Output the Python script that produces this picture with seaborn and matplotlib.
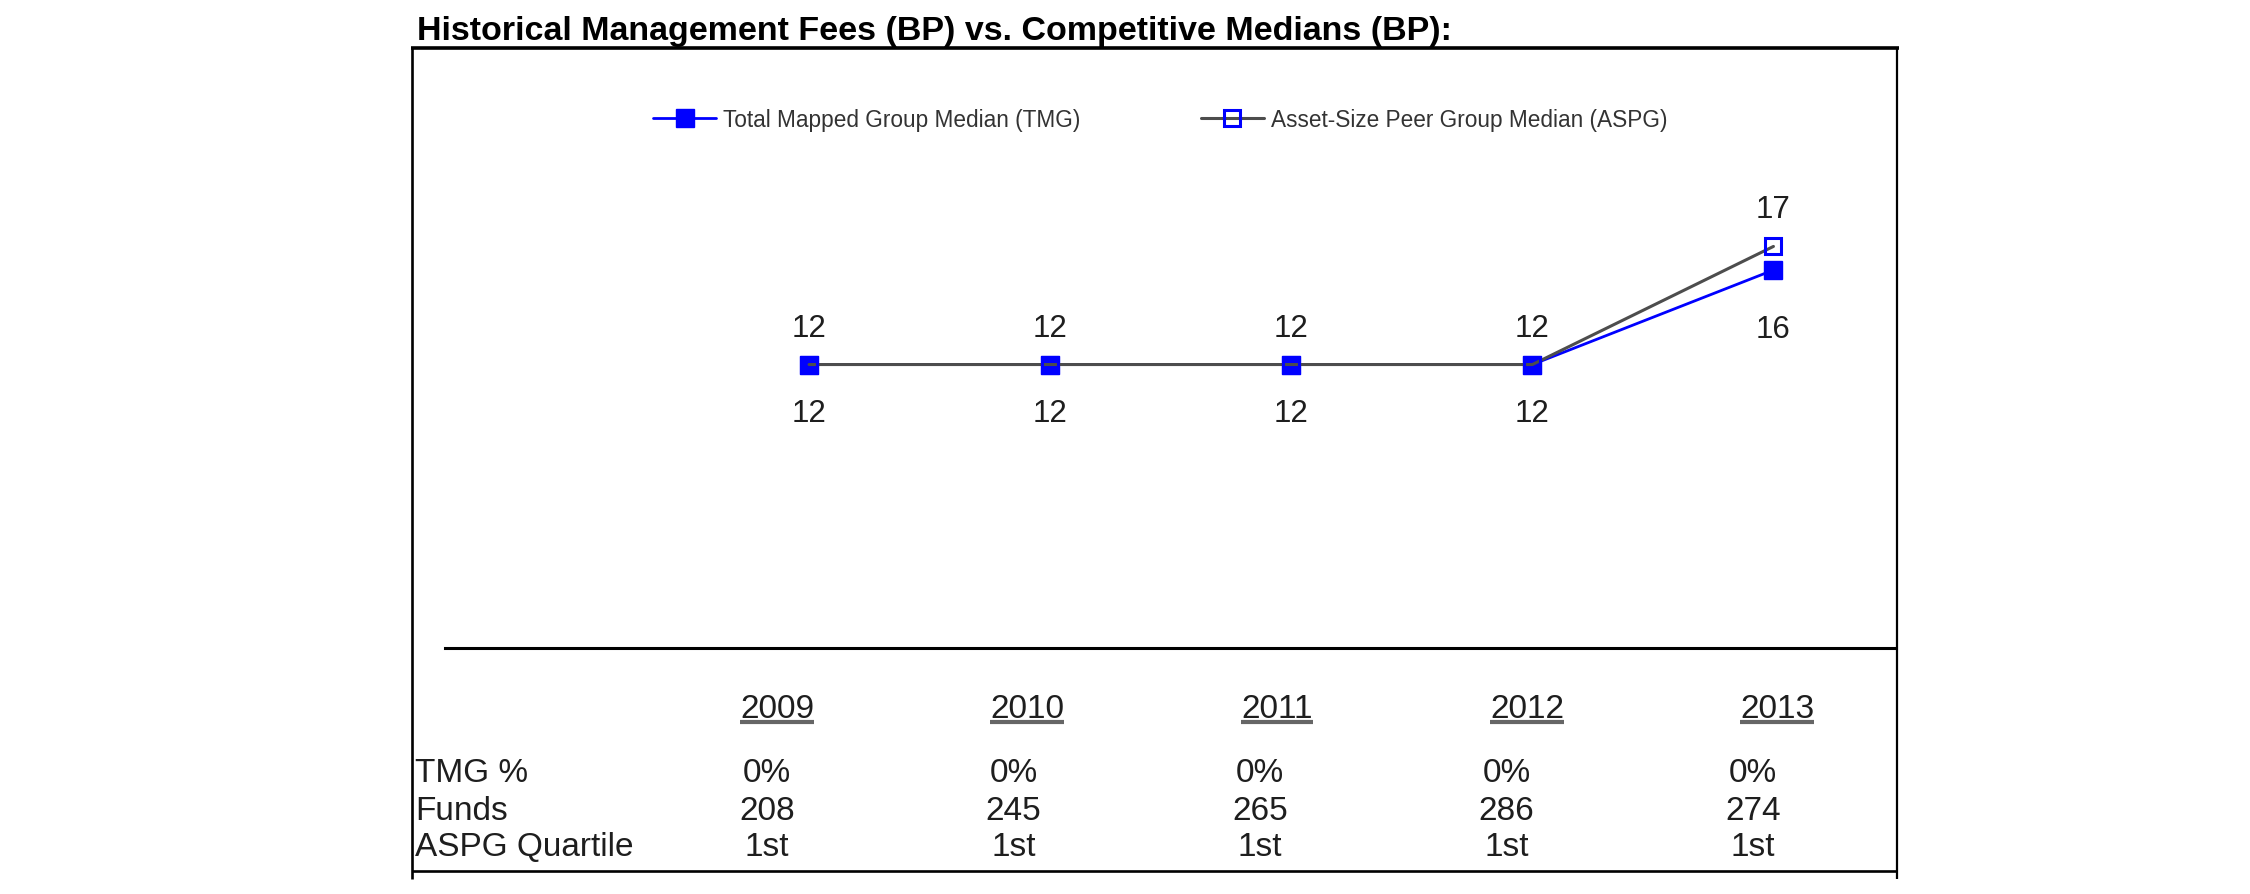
import matplotlib
matplotlib.use("Agg")
import matplotlib.pyplot as plt
from matplotlib.lines import Line2D
import numpy as np
import pandas as pd
import seaborn as sns

# ---------------- data ----------------
years = ["2009", "2010", "2011", "2012", "2013"]
tmg_median = [12, 12, 12, 12, 16]
aspg_median = [12, 12, 12, 12, 17]
tmg_pct = ["0%", "0%", "0%", "0%", "0%"]
funds = [208, 245, 265, 286, 274]
aspg_quartile = ["1st", "1st", "1st", "1st", "1st"]
row_labels = ["TMG %", "Funds", "ASPG Quartile"]
series_labels = ["Total Mapped Group Median (TMG)", "Asset-Size Peer Group Median (ASPG)"]
title = "Historical Management Fees (BP) vs. Competitive Medians (BP):"

# ---------------- style ----------------
sns.set_theme(style="white")
plt.rcParams["font.family"] = ["Liberation Sans", "DejaVu Sans"]

W, H = 2250, 895
fig = plt.figure(figsize=(W / 100, H / 100), dpi=100)
fig.patch.set_facecolor("white")


def fx(px):
    return px / W


def fy(py):
    return 1 - py / H


BLUE = "#0000ff"
GRAY = "#4d4d4d"
TXT = "#1e1e1e"

ax = fig.add_axes([fx(445), fy(649), fx(1894) - fx(445), (649 - 49) / H])
ax.set_facecolor("none")

df = pd.DataFrame({"pos": np.arange(len(years)), "year": years,
                   "TMG": tmg_median, "ASPG": aspg_median})

sns.lineplot(data=df, x="pos", y="TMG", ax=ax, color=BLUE, lw=2.0,
             marker="s", markersize=13, markeredgewidth=1.0,
             markeredgecolor=BLUE, markerfacecolor=BLUE,
             label=series_labels[0], zorder=3)
sns.lineplot(data=df, x="pos", y="ASPG", ax=ax, color=GRAY, lw=2.2,
             marker="s", markersize=11.5, markeredgewidth=2.2,
             markeredgecolor=BLUE, markerfacecolor="none",
             label=series_labels[1], zorder=4)

ax.set_xlim(-1.51, 4.50)
ax.set_ylim(0, 25.4)
ax.set_xticks([])
ax.set_yticks([])
ax.set_xlabel("")
ax.set_ylabel("")
for s in ["left", "top", "right"]:
    ax.spines[s].set_visible(False)
ax.spines["bottom"].set_color("black")
ax.spines["bottom"].set_linewidth(2.2)

# value labels
for i, (t, a) in enumerate(zip(tmg_median, aspg_median)):
    ax.annotate(str(a), (i, a), xytext=(0, 29), textcoords="offset pixels",
                ha="center", va="baseline", fontsize=22.5, color=TXT)
    below = 56 if t == a else 67
    ax.annotate(str(t), (i, t), xytext=(0, -below), textcoords="offset pixels",
                ha="center", va="baseline", fontsize=22.5, color=TXT)

# legend
leg = ax.legend(loc="center left", bbox_to_anchor=(fx(653), fy(120)),
                bbox_transform=fig.transFigure, ncol=2, frameon=False,
                fontsize=16.3, handlelength=2.8, handletextpad=0.3,
                columnspacing=5.3, borderpad=0, borderaxespad=0)
for txt in leg.get_texts():
    txt.set_color("#333333")

# title
fig.text(fx(417), fy(40), title, ha="left", va="baseline",
         fontsize=24.5, fontweight="bold", color="black")

# frame
frame_kw = dict(transform=fig.transFigure, color="black", solid_capstyle="butt")
fig.add_artist(Line2D([fx(411), fx(1899)], [fy(49), fy(49)], lw=2.6, **frame_kw))
fig.add_artist(Line2D([fx(412), fx(412)], [fy(48), fy(880)], lw=1.9, **frame_kw))
fig.add_artist(Line2D([fx(1897), fx(1897)], [fy(48), fy(880)], lw=1.6, **frame_kw))
fig.add_artist(Line2D([fx(412), fx(1897)], [fy(872), fy(872)], lw=1.9, **frame_kw))

# table
year_texts = []
for i, yr in enumerate(years):
    t = fig.text(fx(777 + 250 * i), fy(718), yr, ha="center",
                 va="baseline", fontsize=24, color=TXT)
    year_texts.append(t)

row_base = [782, 820, 856]
rows = [tmg_pct, [str(v) for v in funds], aspg_quartile]
for r, (lab, vals) in enumerate(zip(row_labels, rows)):
    fig.text(fx(415), fy(row_base[r]), lab, ha="left", va="baseline",
             fontsize=24, color=TXT)
    for i, v in enumerate(vals):
        fig.text(fx(767 + 246.5 * i), fy(row_base[r]), v, ha="center",
                 va="baseline", fontsize=24, color=TXT)

# underline years
fig.canvas.draw()
renderer = fig.canvas.get_renderer()
inv = fig.transFigure.inverted()
for t in year_texts:
    bb = t.get_window_extent(renderer=renderer)
    (x0, _), (x1, _) = inv.transform([(bb.x0, 0), (bb.x1, 0)])
    fig.add_artist(Line2D([x0, x1], [fy(723), fy(723)], transform=fig.transFigure,
                          color="#666666", lw=3.0, solid_capstyle="butt"))

fig.savefig("out.png", dpi=100)
